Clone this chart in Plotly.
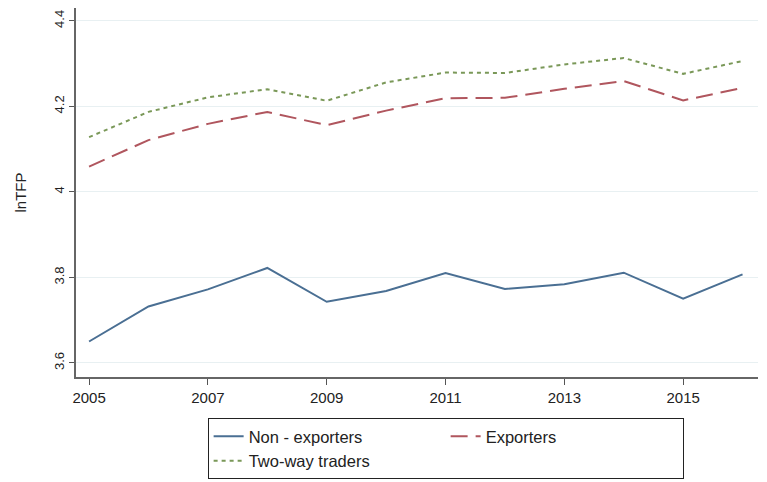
import plotly.graph_objects as go

years = [2005, 2006, 2007, 2008, 2009, 2010, 2011, 2012, 2013, 2014, 2015, 2016]
non_exporters = [3.650, 3.732, 3.772, 3.822, 3.743, 3.768, 3.810, 3.773, 3.784, 3.811, 3.750, 3.807]
exporters = [4.059, 4.121, 4.159, 4.187, 4.156, 4.190, 4.219, 4.220, 4.241, 4.259, 4.214, 4.243]
two_way = [4.128, 4.187, 4.221, 4.240, 4.213, 4.256, 4.279, 4.278, 4.298, 4.313, 4.276, 4.306]
x_ticks = [2005, 2007, 2009, 2011, 2013, 2015]
y_ticks = [3.6, 3.8, 4.0, 4.2, 4.4]
y_labels = ["3.6", "3.8", "4", "4.2", "4.4"]

fig = go.Figure()
fig.add_trace(go.Scatter(x=years, y=non_exporters, mode="lines", name="Non - exporters",
                         line=dict(color="#4a6f93", width=2)))
fig.add_trace(go.Scatter(x=years, y=exporters, mode="lines", name="Exporters",
                         line=dict(color="#b0565e", width=2, dash="17px,8px")))
fig.add_trace(go.Scatter(x=years, y=two_way, mode="lines", name="Two-way traders",
                         line=dict(color="#7a9858", width=2, dash="4px,4px")))

# page body keeps its default 8px margin, so the figure is 8px smaller
fig.update_layout(
    width=759, height=474,
    margin=dict(l=68, r=9, t=0, b=105, autoexpand=False),
    paper_bgcolor="white", plot_bgcolor="white",
    font=dict(family="Liberation Sans, Arial, sans-serif", size=14, color="#222"),
    showlegend=True,
    legend=dict(orientation="h", x=0.193, xanchor="left", y=-0.111, yanchor="top",
                bordercolor="#222", borderwidth=1, entrywidth=192,
                font=dict(size=16.5), tracegroupgap=0),
)
fig.update_xaxes(range=[2004.78, 2016.26], tickvals=x_ticks, ticks="outside", ticklen=6,
                 tickcolor="#555", showline=True, linecolor="#666", linewidth=1.5,
                 showgrid=False, zeroline=False, automargin=False, tickfont=dict(size=15))
fig.update_yaxes(range=[3.567, 4.43], tickvals=y_ticks, ticktext=y_labels, tickangle=-90,
                 ticks="outside", ticklen=5, tickcolor="#555", showline=True,
                 linecolor="#666", linewidth=1.5, gridcolor="#e8f0f2", gridwidth=1,
                 zeroline=False, tickfont=dict(size=13), automargin=False,
                 title=dict(text="lnTFP", font=dict(size=15), standoff=22))

fig.write_html("out.html")
